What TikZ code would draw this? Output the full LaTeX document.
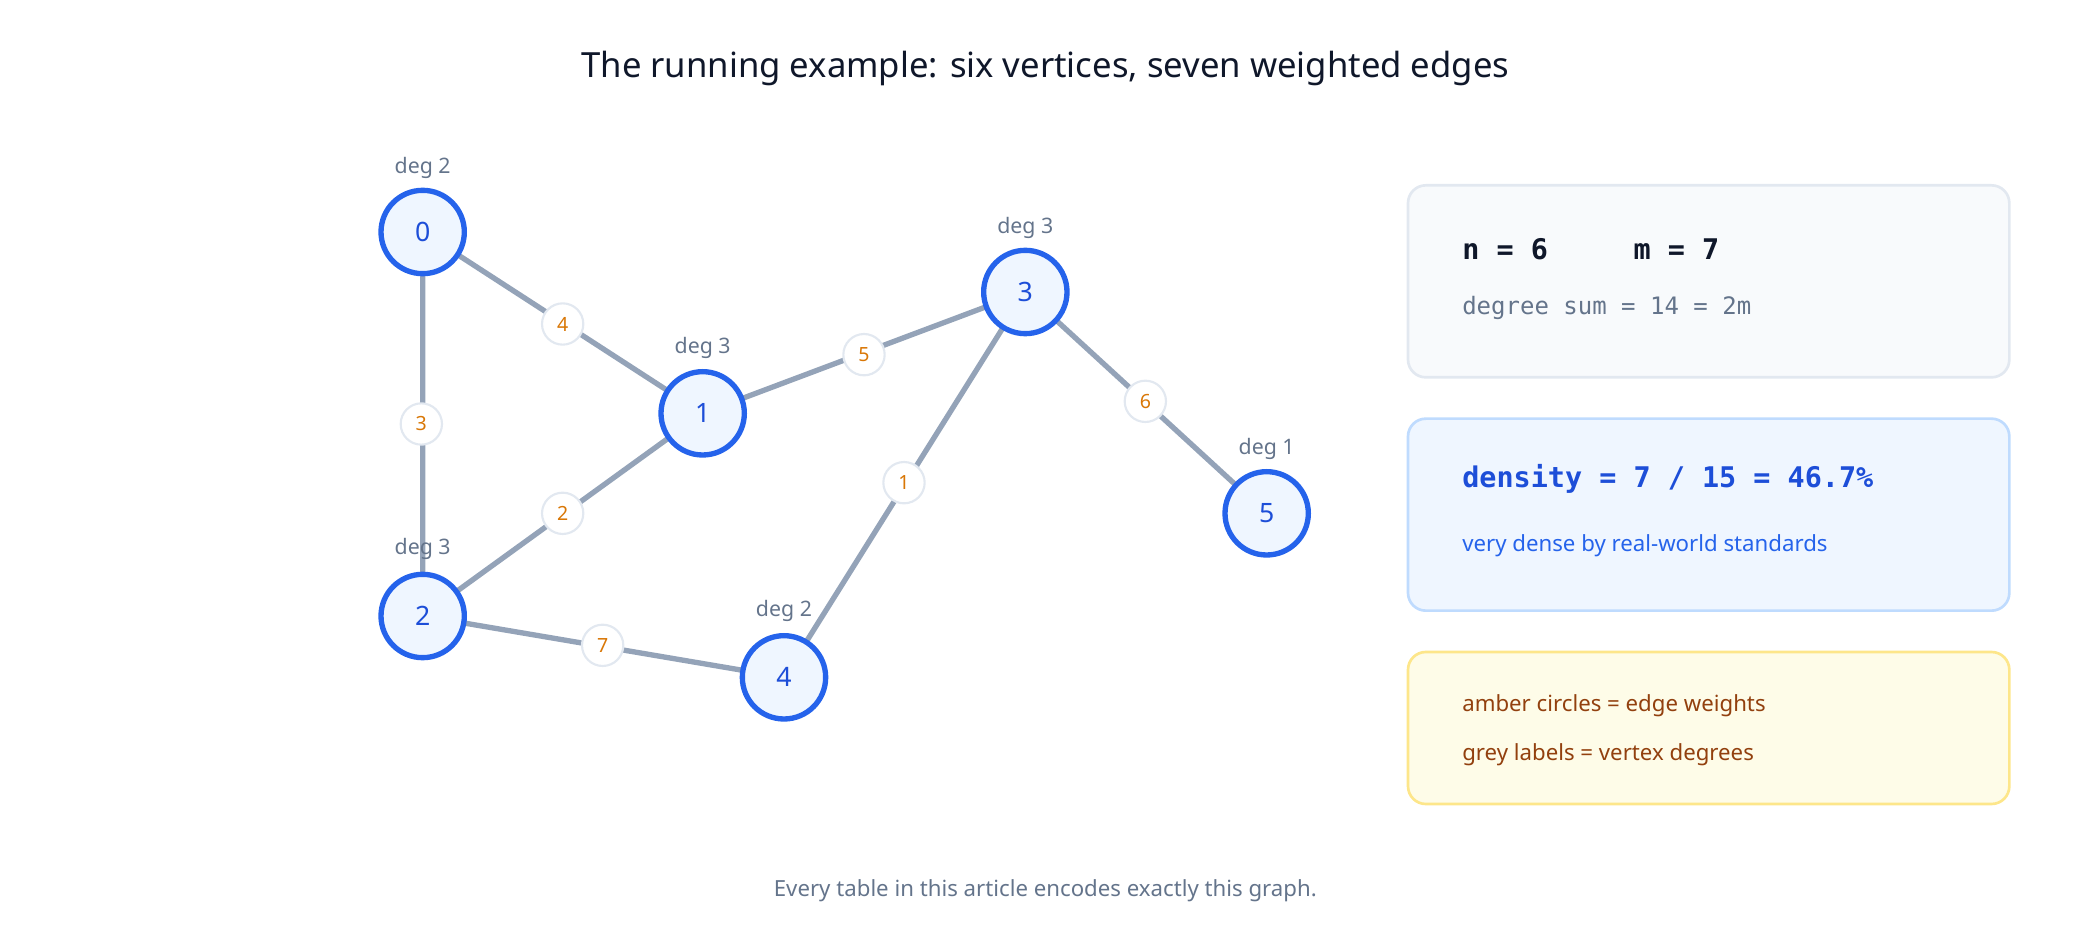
\documentclass[tikz,border=0pt]{standalone}
\usepackage{fontspec}
\setmainfont{Noto Sans}
\setmonofont{DejaVu Sans Mono}
\begin{document}
\definecolor{nfill}{HTML}{EFF6FF}\definecolor{nstroke}{HTML}{2563EB}\definecolor{ntext}{HTML}{1D4ED8}
\definecolor{edge}{HTML}{94A3B8}\definecolor{wstroke}{HTML}{E2E8F0}\definecolor{wtext}{HTML}{D97706}
\definecolor{grey}{HTML}{64748B}\definecolor{b1f}{HTML}{F8FAFC}\definecolor{b2s}{HTML}{BFDBFE}
\definecolor{b3f}{HTML}{FEFCE8}\definecolor{b3s}{HTML}{FDE68A}\definecolor{brown}{HTML}{92400E}
\definecolor{title}{HTML}{0F172A}
\begin{tikzpicture}[x=0.75pt,y=-0.75pt,
 v/.style={circle,draw=nstroke,fill=nfill,line width=3pt,minimum size=62.5*0.75pt,inner sep=0,text=ntext,font=\fontsize{15}{18}\selectfont\bfseries},
 w/.style={circle,draw=wstroke,fill=white,line width=1.2pt,minimum size=31*0.75pt,inner sep=0,text=wtext,font=\fontsize{11}{13}\selectfont\bfseries},
 e/.style={draw=edge,line width=3pt},
 deg/.style={text=grey,font=\fontsize{12}{14}\selectfont\bfseries},
 box/.style={rounded corners=10pt,line width=1.5pt}]
\useasboundingbox (0,0) rectangle (1560,705);
\node[text=title,font=\fontsize{19.5}{23}\selectfont\bfseries] (t) at (784,51) {The running example: six vertices, seven weighted edges};
\coordinate (p0) at (317,174);\coordinate (p1) at (527,310);\coordinate (p2) at (317,462);
\coordinate (p3) at (769,219);\coordinate (p4) at (588,508);\coordinate (p5) at (950,385);
\draw[e] (p0)--(p1) (p0)--(p2) (p1)--(p2) (p1)--(p3) (p3)--(p4) (p3)--(p5) (p2)--(p4);
\node[v] (n0) at (p0) {0};\node[v] (n1) at (p1) {1};\node[v] (n2) at (p2) {2};
\node[v] (n3) at (p3) {3};\node[v] (n4) at (p4) {4};\node[v] (n5) at (p5) {5};
\node[w] (w4) at (422,243) {4};\node[w] (w5) at (648,266) {5};\node[w] (w3) at (316,318) {3};
\node[w] (w2) at (422,385) {2};\node[w] (w1) at (678,362) {1};\node[w] (w6) at (859,301) {6};
\node[w] (w7) at (452,484) {7};
\node[deg] (d0) at (317,126) {deg 2};\node[deg] (d1) at (527,261) {deg 3};\node[deg] (d2) at (317,412) {deg 3};
\node[deg] (d3) at (769,171) {deg 3};\node[deg] (d4) at (588,458) {deg 2};\node[deg] (d5) at (950,337) {deg 1};
\draw[box,draw=wstroke,fill=b1f] (1056,139) rectangle (1507,283);
\draw[box,draw=b2s,fill=nfill] (1056,314) rectangle (1507,458);
\draw[box,draw=b3s,fill=b3f] (1056,489) rectangle (1507,603);
\node[anchor=west,text=title,font=\fontsize{16}{19}\selectfont\ttfamily\bfseries] (a) at (1092,187) {n = 6\ \ \ \ \ m = 7};
\node[anchor=west,text=grey,font=\fontsize{13.5}{16}\selectfont\ttfamily] (b) at (1092,231) {degree sum = 14 = 2m};
\node[anchor=west,text=ntext,font=\fontsize{16}{19}\selectfont\ttfamily\bfseries] (c) at (1092,359) {density = 7 / 15 = 46.7\%};
\node[anchor=west,text=nstroke,font=\fontsize{12.5}{15}\selectfont] (d) at (1092,409) {very dense by real-world standards};
\node[anchor=west,text=brown,font=\fontsize{12.5}{15}\selectfont] (f) at (1092,529) {amber circles = edge weights};
\node[anchor=west,text=brown,font=\fontsize{12.5}{15}\selectfont] (g) at (1092,566) {grey labels = vertex degrees};
\node[text=grey,font=\fontsize{12.5}{15}\selectfont] (h) at (784,668) {Every table in this article encodes exactly this graph.};
\end{tikzpicture}
\end{document}
